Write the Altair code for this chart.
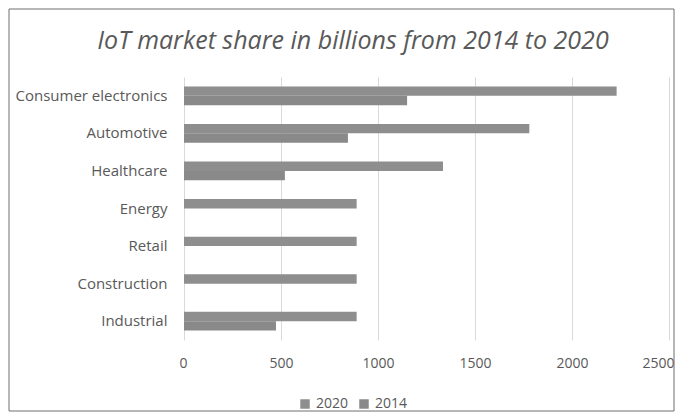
import altair as alt
import pandas as pd

categories = ["Consumer electronics", "Automotive", "Healthcare", "Energy", "Retail", "Construction", "Industrial"]
values_2020 = [2230, 1780, 1335, 890, 890, 890, 890]
values_2014 = [1150, 845, 520, None, None, None, 474]
years = ["2020", "2014"]
x_ticks = [0, 500, 1000, 1500, 2000, 2500]
title_text = "IoT market share in billions from 2014 to 2020"

rows = []
for c, v20, v14 in zip(categories, values_2020, values_2014):
    rows.append({"category": c, "year": "2020", "value": v20})
    if v14 is not None:
        rows.append({"category": c, "year": "2014", "value": v14})
df = pd.DataFrame(rows)

W, H = 485, 263
FONT = "Open Sans"

bars = alt.Chart(df).mark_bar().encode(
    x=alt.X("value:Q", scale=alt.Scale(domain=[0, 2500], nice=False),
            axis=alt.Axis(values=x_ticks, format="d", title=None, domain=False, ticks=False,
                          grid=True, gridColor="#d9d9d9", labelPadding=16,
                          labelFlush=True, labelFlushOffset=5,
                          labelFontSize=14, labelColor="#595959", labelFont=FONT)),
    y=alt.Y("category:N", sort=categories,
            scale=alt.Scale(paddingInner=0.5, paddingOuter=0.25),
            axis=alt.Axis(title=None, domain=False, ticks=False, labelPadding=17,
                          labelFontSize=15, labelColor="#595959", labelFont=FONT)),
    yOffset=alt.YOffset("year:N", sort=years, scale=alt.Scale(paddingInner=0, paddingOuter=0)),
    color=alt.Color("year:N", sort=years,
                    scale=alt.Scale(domain=years, range=["#8e8e8e", "#898989"]),
                    legend=alt.Legend(title=None, orient="none", direction="horizontal",
                                      legendX=114, legendY=320, symbolType="square",
                                      symbolSize=90, labelFontSize=14, labelColor="#595959",
                                      labelFont=FONT, columnPadding=8, labelOffset=4)),
)

frame = alt.Chart(pd.DataFrame({"a": [0]})).mark_rect(
    fill=None, stroke="#6f6f6f", strokeWidth=1
).encode(x=alt.value(-175), x2=alt.value(490), y=alt.value(-68), y2=alt.value(334))

title = alt.Chart(pd.DataFrame({"t": [title_text]})).mark_text(
    fontSize=25, fontStyle="italic", font=FONT, color="#595959",
    align="center", baseline="middle"
).encode(text="t:N", x=alt.value(169), y=alt.value(-36))

chart = alt.layer(frame, title, bars).properties(
    width=W, height=H,
    autosize=alt.AutoSizeParams(type="none"),
    padding={"left": 176, "top": 69, "right": 6, "bottom": 72},
).configure_view(stroke=None)

chart.save("out.html", embed_options={"renderer": "svg", "actions": False})
